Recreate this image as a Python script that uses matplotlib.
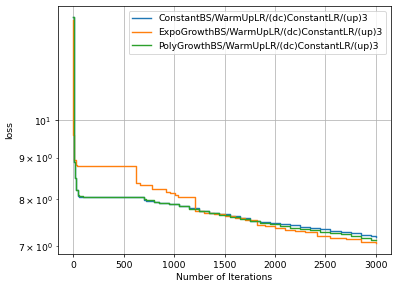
import matplotlib
matplotlib.use('Agg')
import matplotlib.pyplot as plt

# iteration breakpoints / loss values (step curves)
const_iters = [0, 5, 10, 20, 30, 45, 60, 100, 700, 720, 800, 850, 950, 1050, 1150, 1250, 1350,
               1450, 1550, 1650, 1750, 1850, 1950, 2050, 2150, 2250, 2350, 2450, 2550, 2650,
               2750, 2850, 2950, 3000]
const_loss = [13.4, 9.6, 8.9, 8.5, 8.2, 8.07, 8.05, 8.04, 7.98, 7.96, 7.93, 7.91, 7.88, 7.84,
              7.80, 7.74, 7.70, 7.66, 7.62, 7.58, 7.53, 7.50, 7.48, 7.46, 7.43, 7.40, 7.37,
              7.35, 7.31, 7.28, 7.26, 7.23, 7.20, 7.18]

expo_iters = [0, 3, 8, 25, 40, 620, 660, 780, 920, 960, 1010, 1040, 1210, 1300, 1400, 1500,
              1600, 1700, 1820, 1900, 2000, 2100, 2200, 2300, 2420, 2550, 2700, 2850, 3000]
expo_loss = [13.3, 9.6, 8.93, 8.82, 8.80, 8.38, 8.33, 8.23, 8.17, 8.13, 8.09, 8.06, 7.74, 7.70,
             7.66, 7.62, 7.59, 7.55, 7.44, 7.41, 7.37, 7.34, 7.30, 7.28, 7.20, 7.17, 7.15,
             7.08, 7.07]

poly_iters = [0, 5, 10, 20, 30, 45, 60, 100, 700, 720, 800, 850, 950, 1050, 1150, 1250, 1350,
              1450, 1550, 1650, 1750, 1850, 1950, 2050, 2150, 2250, 2350, 2450, 2550, 2650,
              2750, 2850, 2950, 3000]
poly_loss = [13.4, 9.6, 8.9, 8.5, 8.2, 8.09, 8.07, 8.06, 8.0, 7.97, 7.94, 7.91, 7.88, 7.84,
             7.79, 7.73, 7.69, 7.65, 7.61, 7.56, 7.52, 7.47, 7.45, 7.42, 7.38, 7.35, 7.32,
             7.29, 7.26, 7.24, 7.20, 7.16, 7.13, 7.12]

labels = ['ConstantBS/WarmUpLR/(dc)ConstantLR/(up)3',
          'ExpoGrowthBS/WarmUpLR/(dc)ConstantLR/(up)3',
          'PolyGrowthBS/WarmUpLR/(dc)ConstantLR/(up)3']

DPI = 67
fig = plt.figure(figsize=(398 / DPI, 290 / DPI), dpi=DPI)
ax = fig.add_axes([58 / 398, 1 - 254 / 290, 333 / 398, 248 / 290])

ax.plot(const_iters, const_loss, drawstyle='steps-post', label=labels[0])
ax.plot(expo_iters, expo_loss, drawstyle='steps-post', label=labels[1])
ax.plot(poly_iters, poly_loss, drawstyle='steps-post', label=labels[2])

ax.set_yscale('log')
ax.set_xlabel('Number of Iterations')
ax.set_ylabel('loss')
ax.grid(True)
ax.legend(loc='upper right')

fig.savefig('out.png', dpi=DPI)
